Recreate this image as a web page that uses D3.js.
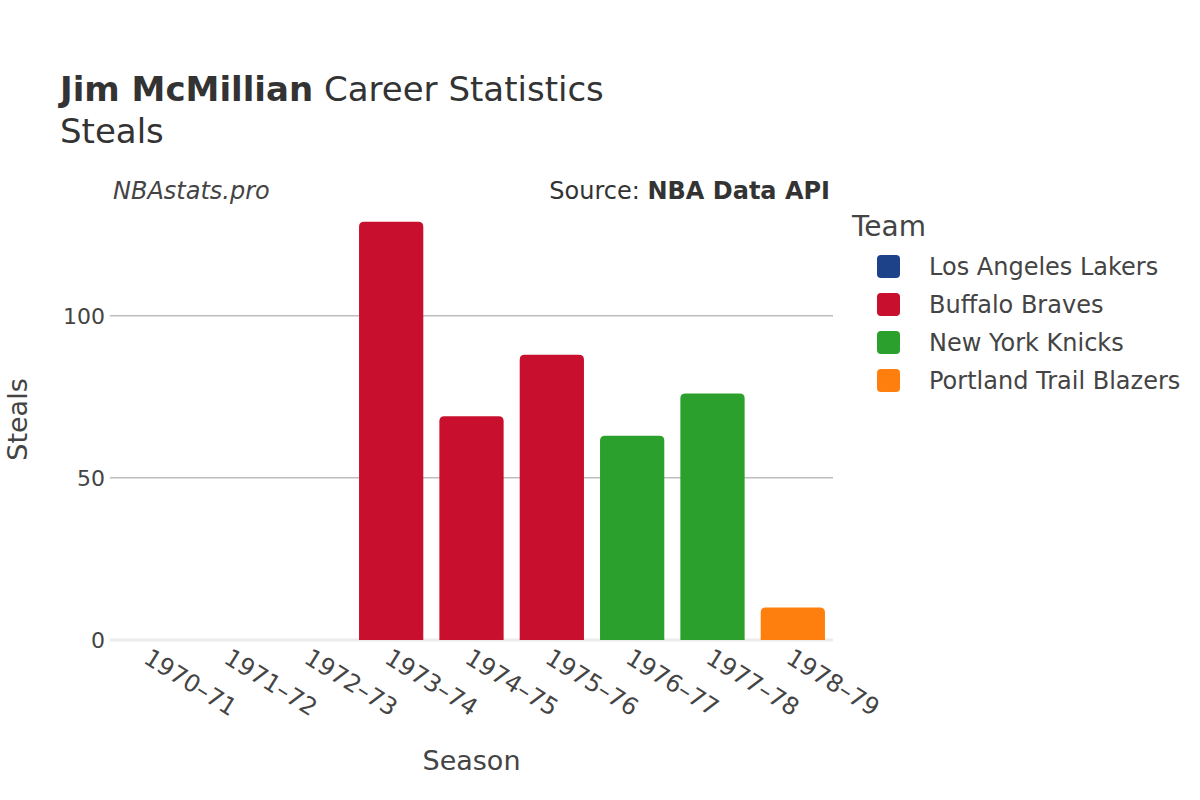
<!DOCTYPE html>
<html>
<head>
<meta charset="utf-8">
<script src="https://cdn.jsdelivr.net/npm/d3@7"></script>
<style>
  body { margin: 0; background: #fff; }
  text { font-family: "DejaVu Sans", sans-serif; }
</style>
</head>
<body>
<div id="chart"></div>
<script>
var seasons = ["1970–71", "1971–72", "1972–73", "1973–74", "1974–75", "1975–76", "1976–77", "1977–78", "1978–79"];
var seasonTeams = ["Los Angeles Lakers", "Los Angeles Lakers", "Los Angeles Lakers", "Buffalo Braves", "Buffalo Braves", "Buffalo Braves", "New York Knicks", "New York Knicks", "Portland Trail Blazers"];
var steals = [0, 0, 0, 129, 69, 88, 63, 76, 10];
var teams = ["Los Angeles Lakers", "Buffalo Braves", "New York Knicks", "Portland Trail Blazers"];
var teamColors = ["#1d428a", "#c8102e", "#2ca02c", "#ff7f0e"];
var yTicks = [0, 50, 100];

var width = 1200, height = 800;
var plotLeft = 110, plotRight = 833, plotTop = 199, plotBottom = 640;

var svg = d3.select("#chart")
    .append("svg")
    .attr("width", width)
    .attr("height", height);

var x = d3.scaleBand()
    .domain(seasons)
    .range([plotLeft, plotRight])
    .paddingInner(0.2)
    .paddingOuter(0.1);

var y = d3.scaleLinear()
    .domain([0, 136])
    .range([plotBottom, plotTop]);

var color = d3.scaleOrdinal().domain(teams).range(teamColors);

// grid
svg.selectAll(".grid")
    .data(yTicks.filter(function(d) { return d > 0; }))
    .enter()
    .append("line")
    .attr("x1", plotLeft)
    .attr("x2", plotRight)
    .attr("y1", function(d) { return y(d); })
    .attr("y2", function(d) { return y(d); })
    .attr("stroke", "#bdbdbd")
    .attr("stroke-width", 1.5);

// zero line
svg.append("line")
    .attr("x1", plotLeft)
    .attr("x2", plotRight)
    .attr("y1", y(0))
    .attr("y2", y(0))
    .attr("stroke", "#ebebeb")
    .attr("stroke-width", 3);

// y tick labels
svg.selectAll(".ytick")
    .data(yTicks)
    .enter()
    .append("text")
    .attr("x", plotLeft - 5)
    .attr("y", function(d) { return y(d) + 8; })
    .attr("text-anchor", "end")
    .attr("fill", "#444")
    .style("font-size", "22px")
    .text(function(d) { return d; });

// bars, rounded top corners
function barPath(d, i) {
    var x0 = x(seasons[i]), w = x.bandwidth();
    var y0 = y(0), y1 = y(d);
    var r = Math.min(5, (y0 - y1) / 2, w / 2);
    return "M" + x0 + "," + y0 +
        "V" + (y1 + r) +
        "Q" + x0 + "," + y1 + " " + (x0 + r) + "," + y1 +
        "H" + (x0 + w - r) +
        "Q" + (x0 + w) + "," + y1 + " " + (x0 + w) + "," + (y1 + r) +
        "V" + y0 + "Z";
}

svg.selectAll(".bar")
    .data(steals)
    .enter()
    .append("path")
    .attr("class", "bar")
    .attr("d", barPath)
    .attr("fill", function(d, i) { return color(seasonTeams[i]); });

// x tick labels
svg.selectAll(".xtick")
    .data(seasons)
    .enter()
    .append("text")
    .attr("transform", function(d) {
        return "translate(" + (x(d) + x.bandwidth() / 2 - 8) + "," + 662 + ") rotate(32)";
    })
    .attr("text-anchor", "start")
    .attr("fill", "#444")
    .style("font-size", "24px")
    .text(function(d) { return d; });

// axis titles
svg.append("text")
    .attr("x", (plotLeft + plotRight) / 2)
    .attr("y", 770)
    .attr("text-anchor", "middle")
    .attr("fill", "#444")
    .style("font-size", "27px")
    .text("Season");

svg.append("text")
    .attr("transform", "translate(27," + ((plotTop + plotBottom) / 2) + ") rotate(-90)")
    .attr("text-anchor", "middle")
    .attr("fill", "#444")
    .style("font-size", "27px")
    .text("Steals");

// title
var title = svg.append("text")
    .attr("x", 60)
    .attr("y", 101)
    .attr("fill", "#333")
    .style("font-size", "34px");
title.append("tspan").style("font-weight", "bold").text("Jim McMillian");
title.append("tspan").text(" Career Statistics");

svg.append("text")
    .attr("x", 60)
    .attr("y", 143)
    .attr("fill", "#333")
    .style("font-size", "34px")
    .text("Steals");

svg.append("text")
    .attr("x", 113)
    .attr("y", 199)
    .attr("fill", "#444")
    .style("font-size", "24px")
    .style("font-style", "italic")
    .text("NBAstats.pro");

var src = svg.append("text")
    .attr("x", 830)
    .attr("y", 199)
    .attr("text-anchor", "end")
    .attr("fill", "#333")
    .style("font-size", "24px");
src.append("tspan").text("Source: ");
src.append("tspan").style("font-weight", "bold").text("NBA Data API");

// legend
svg.append("text")
    .attr("x", 852)
    .attr("y", 236)
    .attr("fill", "#444")
    .style("font-size", "28px")
    .text("Team");

var leg = svg.selectAll(".leg")
    .data(teams)
    .enter()
    .append("g")
    .attr("transform", function(d, i) { return "translate(877," + (255 + 38 * i) + ")"; });

leg.append("rect")
    .attr("width", 23)
    .attr("height", 23)
    .attr("rx", 4)
    .attr("fill", function(d) { return color(d); });

leg.append("text")
    .attr("x", 52)
    .attr("y", 20)
    .attr("fill", "#444")
    .style("font-size", "24px")
    .text(function(d) { return d; });
</script>
</body>
</html>
